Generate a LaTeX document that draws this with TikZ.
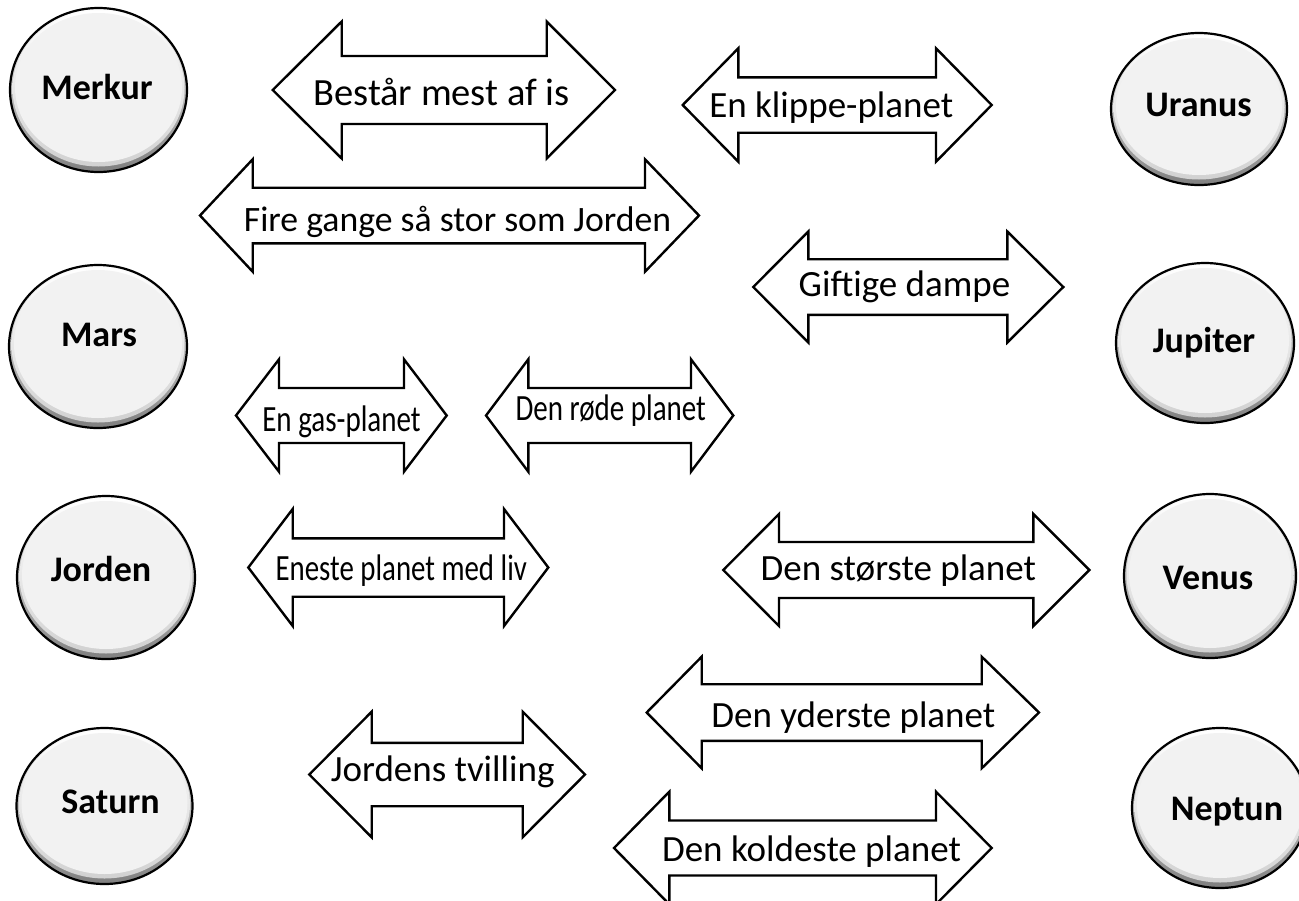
\documentclass[tikz,border=0pt]{standalone}
\usepackage{fontspec}
\usepackage{graphicx}
\setmainfont{Carlito}
\usetikzlibrary{shapes.geometric}
\tikzset{
  planet/.style={ellipse, draw=black, line width=2.2pt, inner sep=0pt, outer sep=0pt,
    top color=white, bottom color=black!50},
  bevel/.style={top color=white, bottom color=black!18},
  planetface/.style={fill=black!5},
  ptext/.style={anchor=base, inner sep=0pt, font=\fontsize{36}{40}\selectfont\bfseries},
  arr/.style={draw=black, fill=white, line width=2.4pt, line join=miter},
  atext/.style={anchor=base, inner sep=0pt, font=\fontsize{37}{42}\selectfont},
}
% #1 left tip x, #2 left base x, #3 right base x, #4 right tip x, #5 centre y, #6 head half height, #7 shaft half height
\newcommand{\dblarr}[7]{%
  \draw[arr] (#1,#5) -- (#2,#5-#6) -- (#2,#5-#7) -- (#3,#5-#7) -- (#3,#5-#6) -- (#4,#5)
    -- (#3,#5+#6) -- (#3,#5+#7) -- (#2,#5+#7) -- (#2,#5+#6) -- cycle;}
% bevelled face inside a planet node: #1 node name, #2 x radius, #3 y radius (outer)
\newcommand{\planetface}[3]{%
  \shade[bevel] ([yshift=1.5pt]#1.center) ellipse [x radius={#2-2.5}, y radius={#3-4}];
  \path[planetface] ([yshift=2.5pt]#1.center) ellipse [x radius={#2-5}, y radius={#3-7.5}];}
\begin{document}
\begin{tikzpicture}[x=1pt, y=-1pt]
\useasboundingbox (0,0) rectangle (1299,900);
\clip (0,0) rectangle (1299,900);

% planets, left column
\node[planet, minimum width=177pt, minimum height=164pt] (merkur) at (98.5,90) {};
\planetface{merkur}{88.5}{82}
\node[ptext] (merkurT) at (97,99.3) {Merkur};

\node[planet, minimum width=178pt, minimum height=163pt] (mars) at (98,346.5) {};
\planetface{mars}{89}{81.5}
\node[ptext] (marsT) at (99,346) {Mars};

\node[planet, minimum width=178pt, minimum height=163pt] (jorden) at (106,577.5) {};
\planetface{jorden}{89}{81.5}
\node[ptext] (jordenT) at (101,581.5) {Jorden};

\node[planet, minimum width=176pt, minimum height=156pt] (saturn) at (104.5,806) {};
\planetface{saturn}{88}{78}
\node[ptext] (saturnT) at (110.5,813.3) {Saturn};

% planets, right column
\node[planet, minimum width=176pt, minimum height=152pt] (uranus) at (1199,109) {};
\planetface{uranus}{88}{76}
\node[ptext] (uranusT) at (1198.5,116.7) {Uranus};

\node[planet, minimum width=178pt, minimum height=160pt] (jupiter) at (1205,343) {};
\planetface{jupiter}{89}{80}
\node[ptext] (jupiterT) at (1204,352) {Jupiter};

\node[planet, minimum width=172pt, minimum height=164pt] (venus) at (1210,576) {};
\planetface{venus}{86}{82}
\node[ptext] (venusT) at (1208,589) {Venus};

\node[planet, minimum width=176pt, minimum height=160pt] (neptun) at (1220,808) {};
\planetface{neptun}{88}{80}
\node[ptext] (neptunT) at (1227,820) {Neptun};

% double arrows
\dblarr{272.7}{341.7}{546.7}{615}{90}{68.5}{34}
\node[atext, font=\fontsize{38.5}{42}\selectfont] (a1) at (441.5,105) {Består mest af is};

\dblarr{682.7}{738.3}{936}{991.7}{105}{56.7}{27.7}
\node[atext] (a2) at (831.3,117.3) {En klippe-planet};

\dblarr{200}{252.7}{645}{699}{215.5}{56.2}{27.8}
\node[atext, font=\fontsize{35.7}{40}\selectfont] (a3) at (457.5,231.7) {Fire gange så stor som Jorden};

\dblarr{753.3}{808.3}{1007.3}{1063.3}{287}{55.5}{27.8}
\node[atext] (a4) at (904.5,296) {Giftige dampe};

\dblarr{236}{279}{404}{446.7}{415.5}{56.2}{27.5}
\node[atext] (a5) at (341.5,431.7) {\scalebox{0.785}[1]{En gas-planet}};

\dblarr{486}{528.3}{691}{733.3}{415.5}{56.2}{27.5}
\node[atext] (a6) at (610.8,420) {\scalebox{0.784}[1]{Den røde planet}};

\dblarr{248.3}{292.7}{504}{548.3}{567.5}{58.5}{29.2}
\node[atext] (a7) at (401.3,580.7) {\scalebox{0.78}[1]{Eneste planet med liv}};

\dblarr{723.3}{779}{1033.3}{1089.3}{570}{56}{28}
\node[atext] (a8) at (898.3,580) {Den største planet};

\dblarr{646.7}{701.7}{981.7}{1039}{712.5}{55.8}{28.3}
\node[atext] (a9) at (853.3,727.3) {Den yderste planet};

\dblarr{614}{669.3}{936}{991.7}{848}{56.3}{27.5}
\node[atext] (a10) at (811.5,861.7) {Den koldeste planet};

\dblarr{309.3}{371.7}{522.7}{585}{774.5}{62.8}{31.7}
\node[atext] (a11) at (442.7,781.7) {Jordens tvilling};
\end{tikzpicture}
\end{document}
